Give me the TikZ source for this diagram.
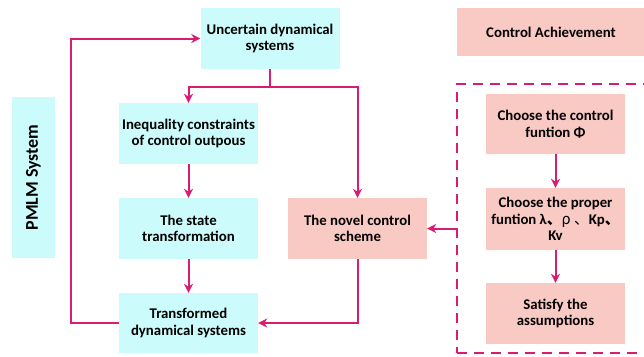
\documentclass[tikz,border=0pt]{standalone}
\usepackage{fontspec}
\setmainfont{Carlito}
\newfontfamily\cjk{Noto Sans CJK SC}
\usetikzlibrary{arrows.meta}
\definecolor{boxcyan}{HTML}{CBFBFB}
\definecolor{boxpink}{HTML}{F9C9C4}
\definecolor{linkred}{HTML}{D81B73}
\begin{document}
\begin{tikzpicture}[x=1pt,y=-1pt,
		cyanbox/.style={fill=boxcyan,align=center,inner sep=0pt,minimum width=139pt,minimum height=61pt,font=\bfseries\fontsize{14.8}{16.5}\selectfont},
		pinkbox/.style={cyanbox,fill=boxpink},
		link/.style={draw=linkred,line width=2pt},
		arrow/.style={link,-{Stealth[length=9pt,width=9pt]}}]
				\useasboundingbox (0,0) rectangle (644,356);
				\clip (0,0) rectangle (644,356);
				\node[cyanbox,minimum width=161pt,minimum height=43pt,rotate=90,font=\bfseries\fontsize{18}{20}\selectfont] (pmlm) at (33.5,177.5) {PMLM System};
				\node[cyanbox] (sys) at (270,38.5) {Uncertain dynamical\\systems};
				\node[cyanbox] (ineq) at (188.5,133.5) {Inequality constraints\\of control outpous};
				\node[cyanbox] (state) at (188.5,228.5) {The state\\transformation};
				\node[cyanbox,minimum height=60pt] (trans) at (188.5,323) {Transformed\\dynamical systems};
				\node[pinkbox] (novel) at (357.5,228.5) {The novel control\\scheme};
				\node[pinkbox,minimum width=188pt,minimum height=48pt] (ach) at (551,32) {Control Achievement};
				\node[draw=linkred,line width=2pt,dash pattern=on 10pt off 7pt,minimum width=210pt,minimum height=269pt] (frame) at (562,218.5) {};
				\node[pinkbox,minimum height=60pt] (choose) at (555.5,124) {Choose the control\\funtion Φ};
				\node[pinkbox,minimum height=62pt] (proper) at (555.5,219) {Choose the proper\\funtion λ{\cjk 、\mdseries ρ 、}Kp{\cjk 、}\\Kv};
				\node[pinkbox] (satisfy) at (555.5,313.5) {Satisfy the\\assumptions};
				\draw[link] (sys.south) -- ++(0,18) coordinate (split);
				\draw[arrow] (split) -| (ineq.north);
				\draw[arrow] (split) -| (novel.north);
				\draw[arrow] (ineq) -- (state);
				\draw[arrow] (state) -- (trans);
				\draw[arrow] (novel.south) |- (trans.east);
				\draw[arrow] (trans.west) -- ++(-48,0) |- (sys.west);
				\draw[arrow] (frame.west |- novel.east) -- (novel.east);
				\draw[arrow] (choose) -- (proper);
				\draw[arrow] (proper) -- (satisfy);
			\end{tikzpicture}
\end{document}
